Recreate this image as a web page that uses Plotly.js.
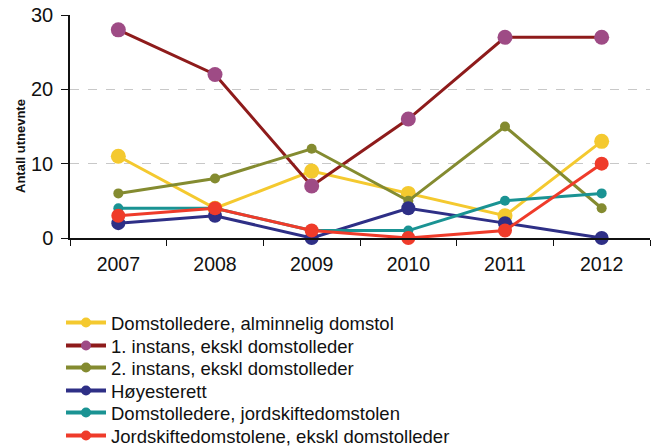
<!DOCTYPE html>
<html><head><meta charset="utf-8">
<script src="https://cdn.plot.ly/plotly-3.0.1.min.js"></script>
<style>body{margin:0;background:#fff}#c{width:659px;height:448px}</style>
</head><body><div id="c"></div>
<script>
var years = ["2007","2008","2009","2010","2011","2012"];
var names = ["Domstolledere, alminnelig domstol","1. instans, ekskl domstolleder","2. instans, ekskl domstolleder","Høyesterett","Domstolledere, jordskiftedomstolen","Jordskiftedomstolene, ekskl domstolleder"];
var alminnelig = [11, 4, 9, 6, 3, 13];
var instans1 = [28, 22, 7, 16, 27, 27];
var instans2 = [6, 8, 12, 5, 15, 4];
var hoyesterett = [2, 3, 0, 4, 2, 0];
var jordLedere = [4, 4, 1, 1, 5, 6];
var jordskifte = [3, 4, 1, 0, 1, 10];
var yTicks = [0, 10, 20, 30];

var series = [alminnelig, instans1, instans2, hoyesterett, jordLedere, jordskifte];
var lineColors = ["#F4C92F","#8E1B1B","#848B30","#2E2F86","#1A9393","#EF3B2A"];
var markerColors = ["#F4C92F","#9E4B85","#848B30","#2E2F86","#1A9393","#EF3B2A"];
var markerSizes = [15, 15, 10, 14, 10, 14];
var legendRowsPx = [323, 346, 368, 391, 413, 436];

var traces = series.map(function(s,i){
  return {x: years, y: s, name: names[i], type:"scatter", mode:"lines+markers",
    showlegend:false, cliponaxis:false,
    line:{color:lineColors[i], width:3},
    marker:{color:markerColors[i], size:markerSizes[i]}};
});
var layout = {
  width:659, height:448,
  margin:{l:70, r:9, t:15, b:210, autoexpand:false},
  paper_bgcolor:"#fff", plot_bgcolor:"#fff",
  font:{family:"Liberation Sans, Arial, sans-serif", color:"#111", size:19.5},
  showlegend:true,
  xaxis:{type:"category", tickson:"boundaries", showline:true, linecolor:"#111", linewidth:1.5,
    ticks:"outside", ticklen:6, tickcolor:"#111", showgrid:false, tickfont:{size:19.5},
    ticklabelstandoff:8, range:[-0.5,5.5], zeroline:false},
  yaxis:{range:[0,30], tickvals:yTicks, showline:true, linecolor:"#111", linewidth:1.5,
    ticks:"outside", ticklen:7, tickcolor:"#111", showgrid:true, gridcolor:"#c8c8c8",
    griddash:"dash", gridwidth:1, zeroline:false, tickfont:{size:20}, ticklabelstandoff:4},
  annotations:[{text:"<b>Antall utnevnte</b>", xref:"paper", yref:"paper",
    x:(21-70)/580, y:(238-146)/223, xanchor:"center", yanchor:"middle", textangle:-90,
    showarrow:false, font:{size:13, color:"#111"}}]
};
// legend entries (same series, small legend symbols), one legend box per row
series.forEach(function(s,i){
  var key = i === 0 ? "legend" : "legend" + (i+1);
  traces.push({x:[null], y:[null], name:names[i], type:"scatter", mode:"lines+markers",
    legend:key, line:{color:lineColors[i], width:4}, marker:{color:markerColors[i], size:10}});
  layout[key] = {x:61/659, y:1 - legendRowsPx[i]/448, xref:"container", yref:"container",
    xanchor:"left", yanchor:"middle", font:{size:18.5, color:"#111"}, itemwidth:40,
    bgcolor:"rgba(0,0,0,0)"};
});
Plotly.newPlot("c", traces, layout, {displayModeBar:false});
</script></body></html>
